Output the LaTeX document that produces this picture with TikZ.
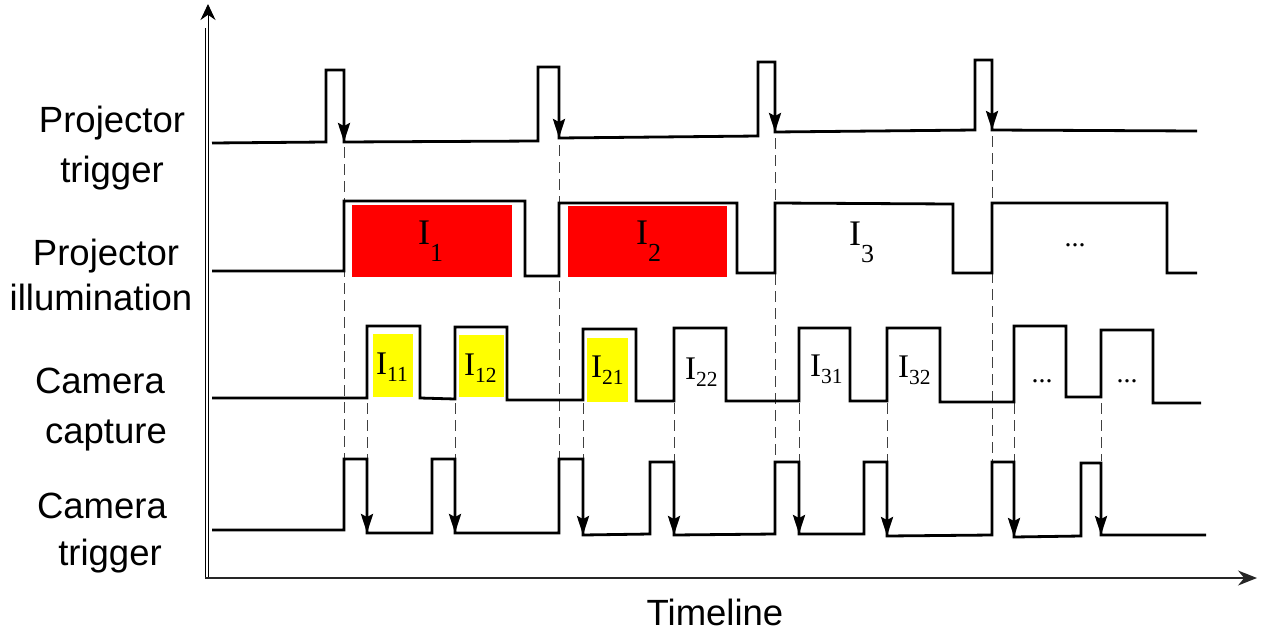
\documentclass[tikz,border=0pt]{standalone}
\usepackage{fontspec}
\setmainfont{Liberation Serif}
\newfontfamily\sansf{Liberation Sans}
\usetikzlibrary{arrows.meta}
\newcommand{\bigI}[1]{{\fontsize{36}{36}\selectfont I}\raisebox{-17pt}{\fontsize{26}{26}\selectfont #1}}
\newcommand{\smI}[1]{{\fontsize{33}{33}\selectfont I}\raisebox{-7pt}{\fontsize{21.5}{21.5}\selectfont #1}}
\definecolor{pred}{RGB}{255,0,0}
\definecolor{pyel}{RGB}{255,255,0}
\begin{document}
\begin{tikzpicture}[x=1pt,y=-1pt,
  wave/.style={line width=2.8pt, line join=miter},
  tip/.style={line width=2.8pt, -{Stealth[length=19pt,width=12pt,inset=3pt]}},
  guide/.style={line width=1pt, black!75, dash pattern=on 11pt off 6pt},
  rowlbl/.style={font=\sansf\fontsize{36.5}{36.5}\selectfont, inner sep=0pt, anchor=base},
  ilbl/.style={inner sep=0pt, anchor=base west},
  dots/.style={inner sep=0pt, anchor=base, font=\fontsize{28}{28}\selectfont},
  axis/.style={line width=1.5pt, black!85}]
\useasboundingbox (0,0) rectangle (1261,632);

% fills
\fill[pred] (352,205) rectangle (512,277);
\fill[pred] (568,206) rectangle (727,277);
\fill[pyel] (373,334) rectangle (413,397);
\fill[pyel] (459,335) rectangle (504,397);
\fill[pyel] (587,338) rectangle (628,402);

% axes
\draw[line width=0.7pt, double=white, double distance=2.6pt] (207,579) -- (207,28);
\draw[line width=1pt, -{Stealth[length=16pt,width=15pt]}] (208,32) -- (208,4);
\draw[axis, -{Stealth[length=19pt,width=15pt]}] (205,578) -- (1257,578);

% guide lines (long)
\draw[guide] (344,147) -- (344,459);
\draw[guide] (559,145) -- (559,459);
\draw[guide] (775,138) -- (775,462);
\draw[guide] (992,136) -- (992,462);
% guide lines (short)
\foreach \x in {367,455,583,674,799,887,1014,1101}
  \draw[guide] (\x,403) -- (\x,461);

% projector trigger
\draw[wave] (212,143) -- (326,142) -- (326,70) -- (344,70) -- (344,142)
  -- (538,141) -- (538,67) -- (559,67) -- (559,138)
  -- (758,136) -- (758,62) -- (775,62) -- (775,132)
  -- (975,130) -- (975,60) -- (992,60) -- (992,130) -- (1197,131);
\foreach \x/\y in {344/142,559/138,775/132,992/130}
  \draw[tip] (\x,\y-40) -- (\x,\y);

% projector illumination
\draw[wave] (212,271) -- (344,271) -- (344,201) -- (525,201) -- (525,276)
  -- (559,276) -- (559,203) -- (737,203) -- (737,273) -- (775,273)
  -- (775,203) -- (953,204) -- (953,273) -- (992,273) -- (992,203)
  -- (1167,203) -- (1167,273) -- (1197,273);

% camera capture
\draw[wave] (212,398) -- (367,398) -- (367,326) -- (420,326) -- (420,398)
  -- (455,399) -- (455,327) -- (507,327) -- (507,400)
  -- (583,400) -- (583,329) -- (636,329) -- (636,401)
  -- (674,401) -- (674,328) -- (726,328) -- (726,401)
  -- (799,401) -- (799,328) -- (850,328) -- (850,401)
  -- (887,401) -- (887,328) -- (940,328) -- (940,402)
  -- (1014,402) -- (1014,326) -- (1066,326) -- (1066,397)
  -- (1101,397) -- (1101,330) -- (1153,330) -- (1153,403) -- (1201,403);

% camera trigger
\draw[wave] (212,530) -- (344,530) -- (344,459) -- (367,459) -- (367,533)
  -- (432,533) -- (432,459) -- (455,459) -- (455,533)
  -- (559,533) -- (559,459) -- (583,459) -- (583,535)
  -- (650,534) -- (650,462) -- (674,462) -- (674,535)
  -- (775,534) -- (775,462) -- (799,462) -- (799,534)
  -- (864,534) -- (864,462) -- (887,462) -- (887,536)
  -- (992,535) -- (992,462) -- (1014,462) -- (1014,537)
  -- (1081,536) -- (1081,463) -- (1101,463) -- (1101,535) -- (1206,535);
\foreach \x/\y in {367/533,455/533,583/535,674/535,799/534,887/536,1014/537,1101/535}
  \draw[tip] (\x,\y-40) -- (\x,\y);

% row labels
\node[rowlbl] (l1a) at (112,132) {Projector};
\node[rowlbl] (l1b) at (112,182) {trigger};
\node[rowlbl] (l2a) at (106,265) {Projector};
\node[rowlbl] (l2b) at (101,310) {illumination};
\node[rowlbl] (l3a) at (100,393) {Camera};
\node[rowlbl] (l3b) at (106,443) {capture};
\node[rowlbl] (l4a) at (102,518) {Camera};
\node[rowlbl] (l4b) at (110,565) {trigger};
\node[rowlbl] (tl) at (715,625) {Timeline};

% illumination labels
\node[ilbl] (i1) at (418,244) {\bigI{1}};
\node[ilbl] (i2) at (636,244) {\bigI{2}};
\node[ilbl] (i3) at (849,245) {\bigI{3}};
\node[dots] (d0) at (1075,246) {...};

% capture labels
\node[ilbl] (i11) at (376,374) {\smI{11}};
\node[ilbl] (i12) at (464,375) {\smI{12}};
\node[ilbl] (i21) at (591,377) {\smI{21}};
\node[ilbl] (i22) at (685,379) {\smI{22}};
\node[ilbl] (i31) at (810,376) {\smI{31}};
\node[ilbl] (i32) at (898,377) {\smI{32}};
\node[dots] (d1) at (1042,382) {...};
\node[dots] (d2) at (1127,382) {...};
\end{tikzpicture}
\end{document}
